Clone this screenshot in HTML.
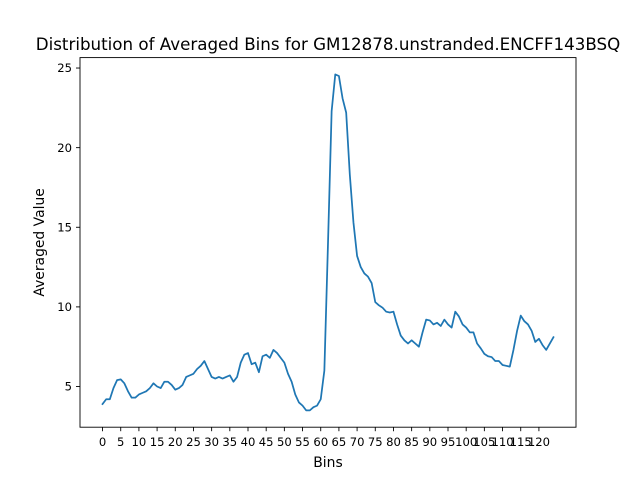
<!DOCTYPE html>
<html><head><meta charset="utf-8"><style>
body{margin:0;background:#fff;}
svg text{font-family:"DejaVu Sans","Liberation Sans",sans-serif;fill:#000;}
</style></head><body>
<svg id="chart" width="640" height="480" xmlns="http://www.w3.org/2000/svg">
<rect width="640" height="480" fill="#fff"/>
<text x="328" y="50" font-size="16.7" text-anchor="middle">Distribution of Averaged Bins for GM12878.unstranded.ENCFF143BSQ</text>
<g id="ticks"></g>
<path id="series" fill="none" stroke="#1f77b4" stroke-width="1.75" stroke-linejoin="round" stroke-linecap="square"/>
<rect x="80" y="57.6" width="496" height="369.6" fill="none" stroke="#000" stroke-width="0.9"/>
<text x="328" y="467" font-size="13.9" text-anchor="middle">Bins</text>
<text transform="translate(44,242.4) rotate(-90)" font-size="13.9" text-anchor="middle">Averaged Value</text>
</svg>
<script>
const values=[3.9,4.2,4.2,4.9,5.4,5.45,5.2,4.7,4.3,4.3,4.5,4.6,4.7,4.9,5.2,5.0,4.9,5.3,5.3,5.1,4.8,4.9,5.1,5.6,5.7,5.8,6.1,6.3,6.6,6.1,5.6,5.5,5.6,5.5,5.6,5.7,5.3,5.6,6.5,7.0,7.1,6.4,6.5,5.9,6.9,7.0,6.8,7.3,7.1,6.8,6.5,5.8,5.3,4.5,4.0,3.8,3.5,3.5,3.7,3.8,4.2,6.0,14,22.3,24.6,24.5,23.1,22.2,18.3,15.3,13.2,12.5,12.1,11.9,11.5,10.3,10.1,9.95,9.7,9.65,9.7,8.9,8.2,7.9,7.7,7.9,7.7,7.5,8.4,9.2,9.15,8.9,9.0,8.8,9.2,8.9,8.7,9.7,9.4,8.9,8.7,8.4,8.4,7.7,7.4,7.05,6.9,6.85,6.6,6.6,6.35,6.3,6.25,7.3,8.5,9.45,9.1,8.9,8.5,7.8,8.0,7.6,7.3,7.7,8.1];
const xTicks=[0,5,10,15,20,25,30,35,40,45,50,55,60,65,70,75,80,85,90,95,100,105,110,115,120];
const yTicks=[5,10,15,20,25];
const L=80,R=576,T=57.6,B=427.2;
const n=values.length;
const xmin=-0.05*(n-1),xmax=(n-1)*1.05;
const vmin=Math.min(...values),vmax=Math.max(...values),pad=(vmax-vmin)*0.05;
const ymin=vmin-pad,ymax=vmax+pad;
const xs=v=>L+(v-xmin)/(xmax-xmin)*(R-L);
const ys=v=>B-(v-ymin)/(ymax-ymin)*(B-T);
const NS="http://www.w3.org/2000/svg";
const g=document.getElementById('ticks');
function mk(tag,attrs){const e=document.createElementNS(NS,tag);for(const k in attrs)e.setAttribute(k,attrs[k]);g.appendChild(e);return e;}
xTicks.forEach(t=>{const x=xs(t);
const l=mk('line',{x1:x,x2:x,y1:B,y2:B+4,stroke:'#000','stroke-width':0.9});


const tx=mk('text',{x:x,y:B+19,'font-size':11.6,'text-anchor':'middle'});tx.textContent=t;


});
yTicks.forEach(t=>{const y=ys(t);
const l=mk('line',{x1:L-4,x2:L,y1:y,y2:y,stroke:'#000','stroke-width':0.9});


const tx=mk('text',{x:L-8,y:y+4.2,'font-size':11.6,'text-anchor':'end'});tx.textContent=t;


});
document.getElementById('series').setAttribute('d',values.map((v,i)=>(i?'L':'M')+xs(i).toFixed(2)+' '+ys(v).toFixed(2)).join(' '));
</script>
</body></html>
